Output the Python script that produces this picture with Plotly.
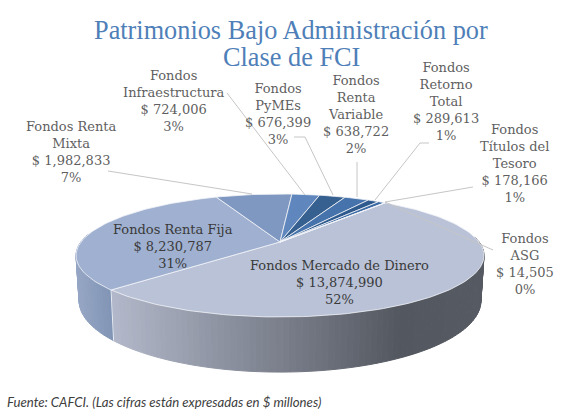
import math
import plotly.graph_objects as go

label_lines = [["Fondos Mercado de Dinero"], ["Fondos Renta Fija"], ["Fondos Renta", "Mixta"],
               ["Fondos", "Infraestructura"], ["Fondos", "PyMEs"], ["Fondos", "Renta", "Variable"],
               ["Fondos", "Retorno", "Total"], ["Fondos", "Títulos del", "Tesoro"], ["Fondos", "ASG"]]
values = [13874990, 8230787, 1982833, 724006, 676399, 638722, 289613, 178166, 14505]
top_colors = ["#b9c2d7", "#9fb0d0", "#7f98c1", "#5f86bd", "#35608f", "#4673ab", "#2f5a8e", "#3b6aa5", "#2c5688"]
label_pos = [(339, 282), (173, 246), (71, 152), (174, 101), (277.5, 114), (355.5, 114), (446, 101), (514, 163), (525, 263.5)]
label_colors = ["#3a3a3a", "#3a3a3a", "#5f5f5f", "#5f5f5f", "#5f5f5f", "#5f5f5f", "#5f5f5f", "#5f5f5f", "#5f5f5f"]
title_lines = ["Patrimonios Bajo Administración por", "Clase de FCI"]
source = "Fuente: CAFCI. (Las cifras están expresadas en $ millones)"
leaders = [[(108, 171), (252, 194)], [(227, 93), (305, 195)], [(294, 137), (305, 137), (333, 195)],
           [(357, 162), (357, 197)], [(429, 143), (420, 143), (375, 200)], [(473, 187), (385, 202)],
           [(385, 202), (493, 250)]]

START = 38.3
CX, CY, K, A, C, D = 280, 242, 199, 5.41, -0.2195, 43


def project(deg, drop=False):
    t = math.radians(deg)
    u, v = math.sin(t), -math.cos(t)
    w = 1 + C * v
    x = K * u / w
    y = (A * v + CY) / w
    if drop:
        return CX + x * 0.985, y + D / w
    return CX + x, y


def mix(c1, c2, f):
    return "#" + "".join(f"{round(a + (b - a) * f):02x}" for a, b in zip(c1, c2))


MERC = [(113, (178, 184, 201)), (220, (141, 147, 161)), (330, (107, 111, 122)), (400, (83, 87, 95)), (490, (86, 90, 98))]
FIJA = [(76, (150, 166, 196)), (113, (128, 147, 180))]


def side_color(x, ramp):
    if x <= ramp[0][0]:
        return mix(ramp[0][1], ramp[0][1], 0)
    for (x0, c0), (x1, c1) in zip(ramp, ramp[1:]):
        if x <= x1:
            return mix(c0, c1, (x - x0) / (x1 - x0))
    return mix(ramp[-1][1], ramp[-1][1], 0)


fig = go.Figure()
total = sum(values)
edges = [START]
for val in values:
    edges.append(edges[-1] + val / total * 360)


def add_side(a0, a1, ramp):
    n = max(2, int((a1 - a0) / 1.5))
    for i in range(n):
        t0 = a0 + (a1 - a0) * i / n
        t1 = a0 + (a1 - a0) * (i + 1) / n
        p = [project(t0), project(t1), project(t1, True), project(t0, True)]
        col = side_color((p[0][0] + p[1][0]) / 2, ramp)
        fig.add_trace(go.Scatter(x=[q[0] for q in p] + [p[0][0]], y=[q[1] for q in p] + [p[0][1]],
                                 mode="lines", fill="toself", fillcolor=col,
                                 line=dict(color=col, width=1), hoverinfo="skip"))


add_side(85, edges[1], MERC)
add_side(edges[1], 278, FIJA)

# white edge on the side between the two large slices
p0, p1 = project(edges[1]), project(edges[1], True)
fig.add_trace(go.Scatter(x=[p0[0], p1[0]], y=[p0[1], p1[1]], mode="lines",
                         line=dict(color="#e8ecf3", width=1), hoverinfo="skip"))

# top face, one polygon per slice
for i, val in enumerate(values):
    a0, a1 = edges[i], edges[i + 1]
    n = max(2, int((a1 - a0) / 1.5))
    pts = [project(a0 + (a1 - a0) * j / n) for j in range(n + 1)]
    xs = [CX] + [q[0] for q in pts] + [CX]
    ys = [CY] + [q[1] for q in pts] + [CY]
    fig.add_trace(go.Scatter(x=xs, y=ys, mode="lines", fill="toself", fillcolor=top_colors[i],
                             line=dict(color="#f2f4f8", width=0.8), hoverinfo="skip"))

for pts in leaders:
    fig.add_trace(go.Scatter(x=[q[0] for q in pts], y=[q[1] for q in pts], mode="lines",
                             line=dict(color="#c6c6c6", width=1), hoverinfo="skip"))

SERIF = "DejaVu Serif"
for lines, val, (x, y), col in zip(label_lines, values, label_pos, label_colors):
    txt = "<br>".join(lines + [f"$ {val:,}", f"{round(val / total * 100)}%"])
    fig.add_annotation(x=x, y=y, text=txt, showarrow=False, xanchor="center", yanchor="middle",
                       font=dict(family=SERIF, size=13, color=col), align="center")

TITLE_FONT = dict(family="Liberation Serif", size=26.3, color="#4f7fb8")
fig.add_annotation(x=291, y=30, text=title_lines[0], showarrow=False, font=TITLE_FONT)
fig.add_annotation(x=291, y=57, text=title_lines[1], showarrow=False, font=TITLE_FONT)
fig.add_annotation(x=5, y=401.5, text=f"<i>{source}</i>", showarrow=False, xanchor="left",
                   font=dict(family="Lato", size=13.2, color="#404040"))

fig.update_layout(width=563, height=409, margin=dict(l=0, r=0, t=0, b=0), showlegend=False,
                  paper_bgcolor="white", plot_bgcolor="white",
                  xaxis=dict(range=[0, 563], visible=False, fixedrange=True),
                  yaxis=dict(range=[409, 0], visible=False, fixedrange=True))
fig.write_html("out.html", config={"displayModeBar": False},
               post_script="document.body.style.margin='0';document.body.style.overflow='hidden';")
